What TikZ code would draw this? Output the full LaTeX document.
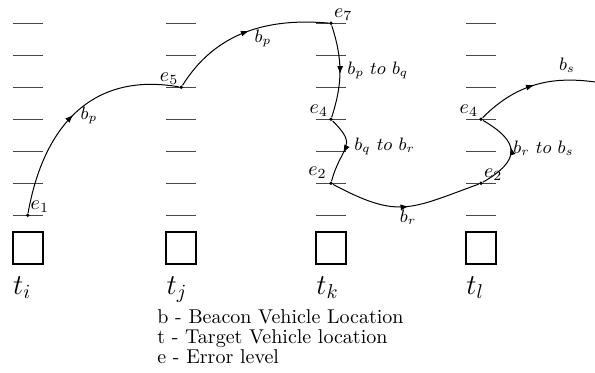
\documentclass[tikz,border=0pt]{standalone}
\usepackage{xcolor}
\usetikzlibrary{positioning, arrows.meta, decorations.markings}
\definecolor{levelGray}{HTML}{474747}
\definecolor{pathDark}{HTML}{000000}

\begin{document}
\begin{tikzpicture}[
  x=0.5pt, y=0.5pt,
  level/.style={levelGray, line width=0.75pt},
  tbox/.style={
    rectangle, draw, line width=1pt,
    minimum width=15pt, minimum height=16pt, inner sep=0pt
  },
  tlabel/.style={font=\Large, inner sep=0pt},
  dot/.style={circle, fill=pathDark, inner sep=0pt, minimum size=1.9pt},
  elabel/.style={inner sep=0.5pt, font=\normalsize},
  blabel/.style={inner sep=1pt, font=\small},
  beacon/.style={pathDark, line width=0.5pt},
  midarrow/.style={
    postaction={decorate},
    decoration={markings,
      mark=at position #1 with {\arrow{Latex[length=4pt,width=3pt]}}}
  },
]
\useasboundingbox (0,0) rectangle (595,-373);

% Error levels at each target location
\foreach \cx in {27.7, 181.3, 331, 481} {
  \foreach \k in {0,...,6} {
    \draw[level] (\cx-15, -23.3-32*\k) -- ++(30,0);
  }
}

% Target vehicle locations
\node[tbox] (bi) at (27.7,-248) {};
\node[tbox] (bj) at (181.3,-248) {};
\node[tbox] (bk) at (331,-248) {};
\node[tbox] (bl) at (481,-248) {};

\node[tlabel, below right=5.5pt and 0.5pt of bi.south west] (ti) {$t_i$};
\node[tlabel, below right=5.5pt and 0.5pt of bj.south west] (tj) {$t_j$};
\node[tlabel, below right=5.5pt and 0.5pt of bk.south west] (tk) {$t_k$};
\node[tlabel, below right=5.5pt and 0.5pt of bl.south west] (tl) {$t_l$};

% Beacon positions on the error levels
\node[dot, label={[elabel]above right:$e_1$}] (i1) at (27.7,-215.3) {};
\node[dot, label={[elabel]above left:$e_5$}] (j5) at (181.3,-87.3) {};
\node[dot, label={[elabel]above right:$e_7$}] (k7) at (331,-23.3) {};
\node[dot, label={[elabel]above left:$e_4$}] (k4) at (331,-119.3) {};
\node[dot, label={[elabel, label distance=1pt]above left:$e_2$}] (k2) at (331,-183.3) {};
\node[dot, label={[elabel]above right:$e_2$}] (l2) at (481,-183.3) {};
\node[dot, label={[elabel]above left:$e_4$}] (l4) at (481,-119.3) {};
\coordinate (lend) at (595,-82);

% Beacon path
\draw[beacon, midarrow=0.49] (i1) to[out=80, in=170, looseness=1.15] (j5);
\draw[beacon, midarrow=0.52] (j5) to[out=58, in=175] (k7);
\draw[beacon, midarrow=0.53] (k7) to[out=-72, in=72] (k4);
\draw[beacon, midarrow=0.55] (k4) to[out=-45, in=75, looseness=1.6] (k2);
\draw[beacon, midarrow=0.52] (k2) to[out=-28, in=200, looseness=1.3] (l2);
\draw[beacon, midarrow=0.55] (l2) to[out=30, in=-30, looseness=1.8] (l4);
\draw[beacon, midarrow=0.5] (l4) to[out=45, in=172] (lend);

% Path labels
\node[blabel] (bp1) at (89,-115) {$b_p$};
\node[blabel] (bp2) at (263,-38) {$b_p$};
\node[blabel, anchor=west] (bpq) at (345,-70) {$b_p\ to\ b_q$};
\node[blabel, anchor=west] (bqr) at (352,-146) {$b_q\ to\ b_r$};
\node[blabel] (br) at (408,-217) {$b_r$};
\node[blabel, anchor=west] (brs) at (511,-148) {$b_r\ to\ b_s$};
\node[blabel] (bs) at (567,-65) {$b_s$};

% Legend
\node[anchor=north west, inner sep=0pt, align=left,
  font=\fontsize{10}{10}\selectfont] (legend) at (157,-309)
  {b - Beacon Vehicle Location\\t - Target Vehicle location\\e - Error level};

\end{tikzpicture}
\end{document}
